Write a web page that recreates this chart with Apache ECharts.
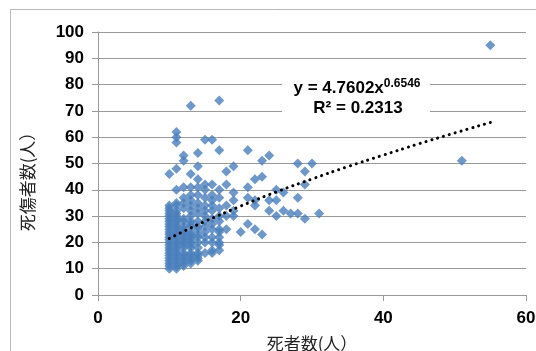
<!DOCTYPE html>
<html>
<head>
<meta charset="utf-8">
<script src="https://cdn.jsdelivr.net/npm/echarts@6/dist/echarts.min.js"></script>
<style>
html, body { margin: 0; padding: 0; background: #fff; }
#chart { width: 536px; height: 351px; }
</style>
</head>
<body>
<div id="chart"></div>
<script>
// 死者数 / 死傷者数 (each pair = one incident)
const points = [
  [10,10],[10,11],[10,12],[10,13],[10,14],[10,15],[10,16],[10,17],[10,18],[10,19],[10,20],[10,21],[10,22],
  [10,23],[10,24],[10,25],[10,26],[10,27],[10,28],[10,29],[10,30],[10,31],[10,32],[10,33],[10,34],[10,46],
  [11,10],[11,11],[11,12],[11,13],[11,14],[11,15],[11,16],[11,17],[11,18],[11,19],[11,20],[11,21],[11,22],
  [11,23],[11,24],[11,25],[11,26],[11,27],[11,28],[11,29],[11,30],[11,31],[11,32],[11,34],[11,35],[11,40],
  [11,48],[11,58],[11,60],[11,62],
  [12,11],[12,12],[12,13],[12,14],[12,15],[12,16],[12,18],[12,19],[12,20],[12,21],[12,22],[12,23],[12,24],
  [12,25],[12,26],[12,28],[12,29],[12,33],[12,35],[12,37],[12,41],[12,51],[12,53],
  [13,12],[13,13],[13,14],[13,15],[13,16],[13,18],[13,19],[13,20],[13,21],[13,22],[13,23],[13,24],[13,26],
  [13,27],[13,28],[13,30],[13,32],[13,34],[13,36],[13,38],[13,41],[13,46],[13,72],
  [14,13],[14,14],[14,15],[14,16],[14,18],[14,20],[14,22],[14,23],[14,25],[14,26],[14,28],[14,31],[14,33],
  [14,35],[14,38],[14,41],[14,44],[14,49],[14,54],
  [15,16],[15,20],[15,22],[15,24],[15,26],[15,28],[15,30],[15,32],[15,34],[15,37],[15,40],[15,42],[15,59],
  [16,16],[16,17],[16,20],[16,22],[16,25],[16,27],[16,29],[16,32],[16,34],[16,36],[16,38],[16,42],[16,59],
  [17,17],[17,19],[17,20],[17,22],[17,24],[17,25],[17,28],[17,30],[17,33],[17,37],[17,40],[17,55],[17,74],
  [18,25],[18,30],[18,34],[18,42],[18,47],
  [19,30],[19,32],[19,36],[19,39],[19,49],
  [20,24],
  [21,27],[21,37],[21,41],[21,55],
  [22,25],[22,34],[22,36],[22,44],
  [23,23],[23,45],[23,51],
  [24,32],[24,36],[24,53],
  [25,30],[25,36],[25,40],
  [26,32],[26,39],
  [27,31],
  [28,31],[28,37],[28,50],
  [29,29],[29,42],[29,47],
  [30,50],
  [31,31],
  [51,51],
  [55,95]
];

// power trendline
const trendX = [10, 12, 15, 20, 25, 30, 35, 40, 45, 50, 55];
const trendY = [21.5, 24.2, 28.0, 33.8, 39.2, 44.1, 48.8, 53.2, 57.5, 61.6, 65.6];

const eqText = 'y = 4.7602x';
const eqPower = '0.6546';
const r2Text = 'R² = 0.2313';

const xName = '死者数(人）';
const yName = '死傷者数(人）';

const gridColor = '#9a9a9a';
const labelFont = 'Liberation Sans, Arial, sans-serif';
const cjkFont = 'Noto Sans CJK JP, sans-serif';

const chart = echarts.init(document.getElementById('chart'));

const option = {
  animation: false,
  backgroundColor: '#fff',
  grid: { left: 98, right: 10, top: 32, bottom: 56, outerBoundsMode: 'none', containLabel: false },
  xAxis: {
    type: 'value',
    min: 0, max: 60, interval: 20,
    name: xName,
    nameLocation: 'middle',
    nameGap: 40,
    nameTextStyle: { fontFamily: cjkFont, fontSize: 17, color: '#222' },
    axisLine: { show: true, lineStyle: { color: gridColor } },
    axisTick: { show: true, inside: false, length: 6, lineStyle: { color: gridColor } },
    axisLabel: { margin: 15, fontFamily: labelFont, fontSize: 17, fontWeight: 'bold', color: '#000' },
    splitLine: { show: false }
  },
  yAxis: {
    type: 'value',
    min: 0, max: 100, interval: 10,
    name: yName,
    nameLocation: 'middle',
    nameGap: 62,
    nameTextStyle: { fontFamily: cjkFont, fontSize: 17, color: '#222', padding: [0, 28, 0, 0] },
    axisLine: { show: true, lineStyle: { color: gridColor } },
    axisTick: { show: true, inside: false, length: 6, lineStyle: { color: gridColor } },
    axisLabel: { margin: 14, fontFamily: labelFont, fontSize: 17, fontWeight: 'bold', color: '#000' },
    splitLine: { show: true, lineStyle: { color: gridColor, width: 1 } }
  },
  series: [
    {
      type: 'scatter',
      symbol: 'diamond',
      symbolSize: 10,
      itemStyle: { color: '#4A7EBB' },
      data: points,
      z: 2
    },
    {
      type: 'line',
      data: trendX.map((x, i) => [x, trendY[i]]),
      smooth: true,
      showSymbol: false,
      lineStyle: { color: '#000', width: 3, type: [0.1, 6], cap: 'round' },
      z: 3
    }
  ],
  graphic: [
    {
      type: 'rect',
      silent: true,
      shape: { x: 10.5, y: 9.5, width: 600, height: 400 },
      style: { fill: 'none', stroke: '#b8b8b8', lineWidth: 1 },
      z: -1
    },
    {
      type: 'rect',
      silent: true,
      shape: { x: 282, y: 77, width: 148, height: 42 },
      style: { fill: '#fff' },
      z: 10
    },
    {
      type: 'text',
      x: 357, y: 88,
      silent: true,
      z: 11,
      style: {
        text: '{m|' + eqText + '}{s|' + eqPower + '}',
        align: 'center',
        verticalAlign: 'middle',
        rich: {
          m: { fontFamily: labelFont, fontSize: 17, fontWeight: 'bold', fill: '#000', lineHeight: 20 },
          s: { fontFamily: labelFont, fontSize: 12, fontWeight: 'bold', fill: '#000', lineHeight: 20, verticalAlign: 'top', padding: [0, 0, 8, 0] }
        }
      }
    },
    {
      type: 'text',
      x: 358, y: 108,
      silent: true,
      z: 11,
      style: {
        text: r2Text,
        align: 'center',
        verticalAlign: 'middle',
        font: 'bold 17px ' + labelFont,
        fill: '#000'
      }
    }
  ]
};

chart.setOption(option);
</script>
</body>
</html>
